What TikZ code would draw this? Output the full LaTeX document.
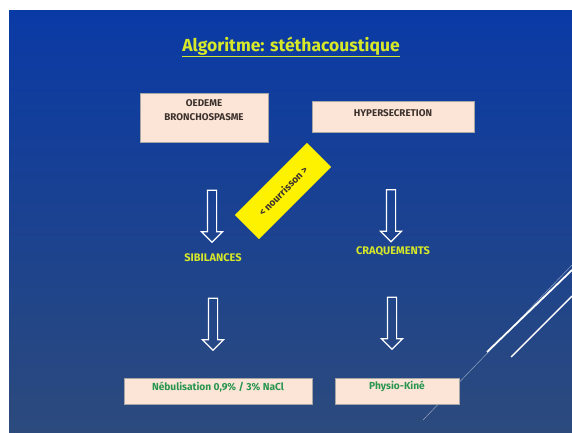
\documentclass[tikz,border=0pt]{standalone}
\usepackage{fontspec}
\setmainfont{Fira Sans}
\usepackage{xcolor}
\usepackage{tikz}
\usetikzlibrary{shapes.arrows}

\definecolor{fondhaut}{RGB}{10,58,165}
\definecolor{fondbas}{RGB}{44,74,124}
\definecolor{peche}{RGB}{252,228,214}
\definecolor{jaunevert}{RGB}{214,232,40}
\definecolor{vertfonce}{RGB}{40,150,80}
\definecolor{gristexte}{RGB}{60,50,45}

\begin{document}
\begin{tikzpicture}[x=1pt, y=-1pt,
	boite/.style = {draw=gray!70, line width=0.6pt, fill=peche, inner sep=0pt},
	txtboite/.style = {text=gristexte, font=\bfseries\fontsize{9.8}{14}\selectfont, align=center, inner sep=0pt},
	txtvert/.style = {text=vertfonce, font=\bfseries\fontsize{10.2}{12}\selectfont, inner sep=0pt},
	signe/.style = {text=jaunevert, font=\bfseries\fontsize{11}{13}\selectfont, inner sep=0pt},
	fleche/.style = {single arrow, draw=white, line width=1.2pt, fill=none, rotate=-90,
		minimum height=52pt, inner sep=0pt, inner ysep=4pt, single arrow head extend=6pt}]

\useasboundingbox (0,0) rectangle (572,433);
\fill[white] (0,0) rectangle (572,433);
\shade[top color=fondhaut, bottom color=fondbas] (9,11) rectangle (572,433);

% traits decoratifs
\draw[white, line width=1.8pt] (487,352) -- (572,270);
\draw[white, line width=1.4pt] (511,357) -- (572,296);
\draw[white, opacity=0.5, line width=0.5pt] (423,420) -- (572,265);

\node[text=jaunevert, font=\bfseries\fontsize{17.5}{20}\selectfont] (titre) at (291,47) {\underline{Algoritme: stéthacoustique}};

% cadres du haut
\node[boite, minimum width=128pt, minimum height=49pt] (oedeme) at (204,117.5) {};
\node[txtboite] (oedemetxt) at ([yshift=7.5pt]oedeme.center) {OEDEME\\BRONCHOSPASME};
\node[boite, minimum width=162pt, minimum height=31pt] (hyper) at (393,116.5) {};
\node[txtboite] (hypertxt) at ([yshift=3.5pt]hyper.center) {HYPERSECRETION};

\node[fill=yellow, rotate=45, minimum width=102pt, minimum height=34pt, inner sep=0pt,
	text=gristexte, font=\bfseries\fontsize{10}{12}\selectfont] (nourrisson) at (283,191) {< nourrisson >};

% fleches creuses
\foreach \nom/\x/\y in {fsib/212/214, fcraq/391/213.5, fneb/213/322, fkine/392/321}{
	\node[fleche] (\nom) at (\x,\y) {};
}

\node[signe] (sib) at (213,258) {SIBILANCES};
\node[signe] (craq) at (393,251) {CRAQUEMENTS};

% cadres du bas
\node[boite, minimum width=188pt, minimum height=26pt] (nebul) at (218,391) {};
\node[txtvert] (nebultxt) at ([yshift=4pt]nebul.center) {Nébulisation 0,9\% / 3\% NaCl};
\node[boite, minimum width=124pt, minimum height=26pt] (kine) at (397,391) {};
\node[txtvert] (kinetxt) at ([yshift=5pt]kine.center) {Physio-Kiné};

\end{tikzpicture}
\end{document}
